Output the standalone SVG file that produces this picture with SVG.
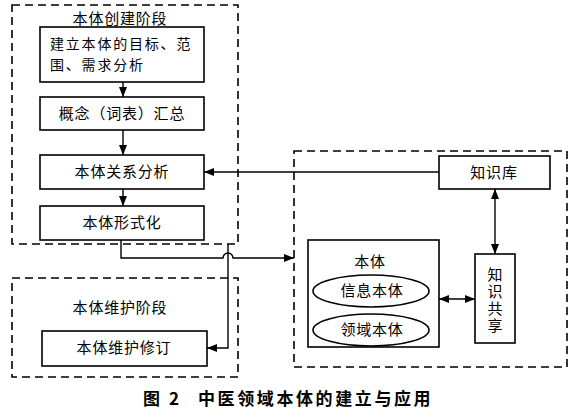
<svg xmlns="http://www.w3.org/2000/svg" width="579" height="419" viewBox="0 0 579 419">
<defs>
<style>
.dash{fill:none;stroke:#000;stroke-width:1.6;stroke-dasharray:8,5}
.box{fill:#fff;stroke:#000;stroke-width:1.6}
.ln{fill:none;stroke:#000;stroke-width:1.4}
text{font-family:"Noto Sans CJK SC","Liberation Sans",sans-serif;font-size:15px;fill:#000;letter-spacing:0.8px}
.c{text-anchor:middle}
.t2{font-size:14px;letter-spacing:1.8px}
.v{writing-mode:vertical-rl;letter-spacing:2px}
.cap{font-size:17px;font-weight:bold;letter-spacing:2.6px}
</style>
<marker id="ah" viewBox="0 0 10 8" refX="10" refY="4" markerWidth="10" markerHeight="8" markerUnits="userSpaceOnUse" orient="auto-start-reverse">
<path d="M0,0 L10,4 L0,8 Z" fill="#000"/>
</marker>
</defs>
<rect width="579" height="419" fill="#fff"/>

<g id="stage-create">
<rect class="dash" x="12" y="5" width="226" height="239"/>
<text class="c" x="120" y="24">本体创建阶段</text>
</g>
<g id="stage-maintain">
<rect class="dash" x="12" y="278" width="226" height="99"/>
<text class="c" x="120" y="313">本体维护阶段</text>
</g>
<g id="stage-apply">
<rect class="dash" x="294" y="151" width="273" height="216"/>
</g>

<g id="n1">
<rect class="box" x="40" y="27" width="164" height="55"/>
<text class="t2" x="50" y="48.5">建立本体的目标、范</text>
<text class="t2" x="50" y="69.5">围、需求分析</text>
</g>
<g id="n2">
<rect class="box" x="40" y="97" width="164" height="33"/>
<text class="c" x="122" y="119">概念（词表）汇总</text>
</g>
<g id="n3">
<rect class="box" x="40" y="155" width="164" height="34"/>
<text class="c" x="122" y="177">本体关系分析</text>
</g>
<g id="n4">
<rect class="box" x="40" y="206" width="164" height="34"/>
<text class="c" x="122" y="228">本体形式化</text>
</g>
<g id="n5">
<rect class="box" x="42" y="331" width="165" height="35"/>
<text class="c" x="124" y="353">本体维护修订</text>
</g>
<g id="kb">
<rect class="box" x="439" y="156" width="111" height="33"/>
<text class="c" x="494" y="178">知识库</text>
</g>
<g id="ontology">
<rect class="box" x="308" y="240" width="131" height="107"/>
<text class="c" x="370" y="267">本体</text>
<ellipse class="box" cx="371" cy="291" rx="58" ry="16"/>
<text class="c" x="372" y="296">信息本体</text>
<ellipse class="box" cx="371" cy="330" rx="58" ry="16"/>
<text class="c" x="372" y="335">领域本体</text>
</g>
<g id="share">
<rect class="box" x="475" y="254" width="40" height="89"/>
<text class="v" x="495" y="267">知识共享</text>
</g>

<g id="connectors">
<line class="ln" x1="123" y1="82" x2="123" y2="97" marker-end="url(#ah)"/>
<line class="ln" x1="123" y1="130" x2="123" y2="155" marker-end="url(#ah)"/>
<line class="ln" x1="123" y1="189" x2="123" y2="206" marker-end="url(#ah)"/>
<line class="ln" x1="439" y1="172" x2="204" y2="172" marker-end="url(#ah)"/>
<path class="ln" d="M121,240 V258 H223 A5,5 0 0 1 233,258 H294" marker-end="url(#ah)"/>
<path class="ln" d="M228,244 V348 H207" marker-end="url(#ah)"/>
<line class="ln" x1="495" y1="189" x2="495" y2="254" marker-start="url(#ah)" marker-end="url(#ah)"/>
<line class="ln" x1="439" y1="299" x2="475" y2="299" marker-start="url(#ah)" marker-end="url(#ah)"/>
</g>

<text class="cap" x="143" y="405">图 2</text>
<text class="cap" x="198" y="405">中医领域本体的建立与应用</text>
</svg>
